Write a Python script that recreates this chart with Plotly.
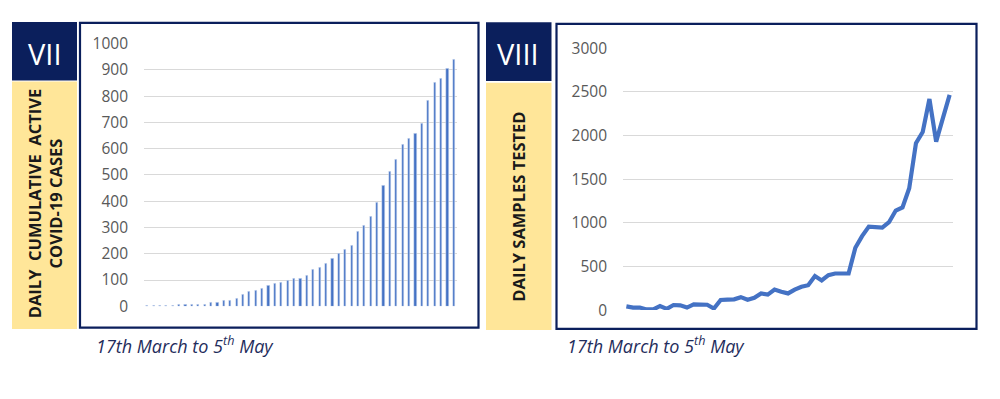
import plotly.graph_objects as go

days = list(range(1, 50))
active_cases = [1, 1, 2, 3, 3, 5, 6, 6, 8, 8, 13, 15, 20, 23, 31, 44, 54, 61, 67, 77,
                85, 89, 98, 104, 105, 117, 141, 148, 163, 181, 202, 217, 232, 286, 308,
                341, 394, 459, 511, 560, 617, 638, 657, 695, 782, 851, 866, 906, 940]
samples_tested = [43, 29, 29, 7, 7, 47, 14, 58, 54, 29, 65, 69, 61, 18, 116, 119, 123,
                  148, 119, 141, 191, 177, 235, 209, 191, 235, 267, 285, 390, 339, 401,
                  419, 415, 419, 715, 848, 957, 946, 946, 1007, 1141, 1177, 1397, 1913,
                  2040, 2419, 1931, 2200, 2466]
left_ticks = [0, 100, 200, 300, 400, 500, 600, 700, 800, 900, 1000]
right_ticks = [0, 500, 1000, 1500, 2000, 2500, 3000]
panel_ids = ["VII", "VIII"]
left_title = "DAILY  CUMULATIVE  ACTIVE<br>COVID-19 CASES"
right_title = "DAILY SAMPLES TESTED"
period = "17th March to 5<sup>th</sup> May"

W, H = 1000, 399
OFF = 8  # page body margin: the figure is drawn 8px right and down
BLUE = "#4472C4"
NAVY = "#0B1F5C"
YELLOW = "#FFE699"
GRID = "#D9D9D9"
TICK = "#595959"
FONT = "Open Sans"


def px(x):
    return (x - OFF) / W


def py(y):
    return 1 - (y - OFF) / H


fig = go.Figure()
fig.add_trace(go.Bar(x=days, y=active_cases, marker_color=BLUE, width=0.34,
                     xaxis="x", yaxis="y", showlegend=False))
fig.add_trace(go.Scatter(x=days, y=samples_tested, mode="lines",
                         line=dict(color=BLUE, width=4.2),
                         xaxis="x2", yaxis="y2", showlegend=False))

shapes = []
shapes.append(dict(type="rect", xref="paper", yref="paper", x0=px(12), x1=px(77),
                   y0=py(72), y1=py(10), fillcolor=NAVY, line=dict(width=0), layer="below"))
shapes.append(dict(type="rect", xref="paper", yref="paper", x0=px(12), x1=px(77),
                   y0=py(335), y1=py(73), fillcolor=YELLOW, line=dict(width=0), layer="below"))
shapes.append(dict(type="rect", xref="paper", yref="paper", x0=px(80), x1=px(478.5),
                   y0=py(333.5), y1=py(11), fillcolor="rgba(0,0,0,0)",
                   line=dict(color=NAVY, width=2.2), layer="below"))
shapes.append(dict(type="rect", xref="paper", yref="paper", x0=px(486), x1=px(551.5),
                   y0=py(72.5), y1=py(10.5), fillcolor=NAVY, line=dict(width=0), layer="below"))
shapes.append(dict(type="rect", xref="paper", yref="paper", x0=px(486), x1=px(551.5),
                   y0=py(336), y1=py(74.5), fillcolor=YELLOW, line=dict(width=0), layer="below"))
shapes.append(dict(type="rect", xref="paper", yref="paper", x0=px(556.5), x1=px(976.5),
                   y0=py(335), y1=py(12), fillcolor="rgba(0,0,0,0)",
                   line=dict(color=NAVY, width=2.2), layer="below"))


def ann(x, y, text, size, color, **kw):
    d = dict(x=px(x), y=py(y), xref="paper", yref="paper", text=text,
             showarrow=False, xanchor=kw.pop("xanchor", "center"), yanchor="middle",
             font=dict(family=FONT, size=size, color=color, **kw.pop("font_extra", {})))
    d.update(kw)
    return d


annotations = [
    ann(44.5, 43, panel_ids[0], 29, "white"),
    ann(518.5, 43.5, panel_ids[1], 29, "white"),
    ann(45, 203, left_title, 16.5, "#1A1A1A", textangle=-90, align="center",
        font_extra=dict(weight="bold")),
    ann(518.5, 205, right_title, 16.5, "#1A1A1A", textangle=-90,
        font_extra=dict(weight="bold")),
    ann(94, 352, period, 18, "#1F2D5C", xanchor="left", font_extra=dict(style="italic")),
    ann(565, 352, period, 18, "#1F2D5C", xanchor="left", font_extra=dict(style="italic")),
]

axis_common = dict(showline=False, zeroline=False)
fig.update_layout(
    width=W, height=H,
    margin=dict(l=0, r=0, t=0, b=0),
    paper_bgcolor="white", plot_bgcolor="white",
    bargap=0,
    xaxis=dict(domain=[px(144), px(457)], range=[0.5, 49.5], showticklabels=False,
               showgrid=False, ticks="", **axis_common),
    yaxis=dict(domain=[py(311), py(33)], range=[0, 1000], tickvals=left_ticks,
               showgrid=True, gridcolor=GRID, gridwidth=1, ticks="",
               ticklabelstandoff=15,
               tickfont=dict(family=FONT, size=15.5, color=TICK), **axis_common),
    xaxis2=dict(domain=[px(623), px(953)], range=[0.5, 49.5], showticklabels=False,
                showgrid=False, ticks="", anchor="y2", **axis_common),
    yaxis2=dict(domain=[py(315), py(38)], range=[0, 3000], tickvals=right_ticks,
                showgrid=True, gridcolor=GRID, gridwidth=1, ticks="", anchor="x2",
                ticklabelstandoff=15,
                tickfont=dict(family=FONT, size=15.5, color=TICK), **axis_common),
    shapes=shapes,
    annotations=annotations,
)

fig.write_html("out.html")
